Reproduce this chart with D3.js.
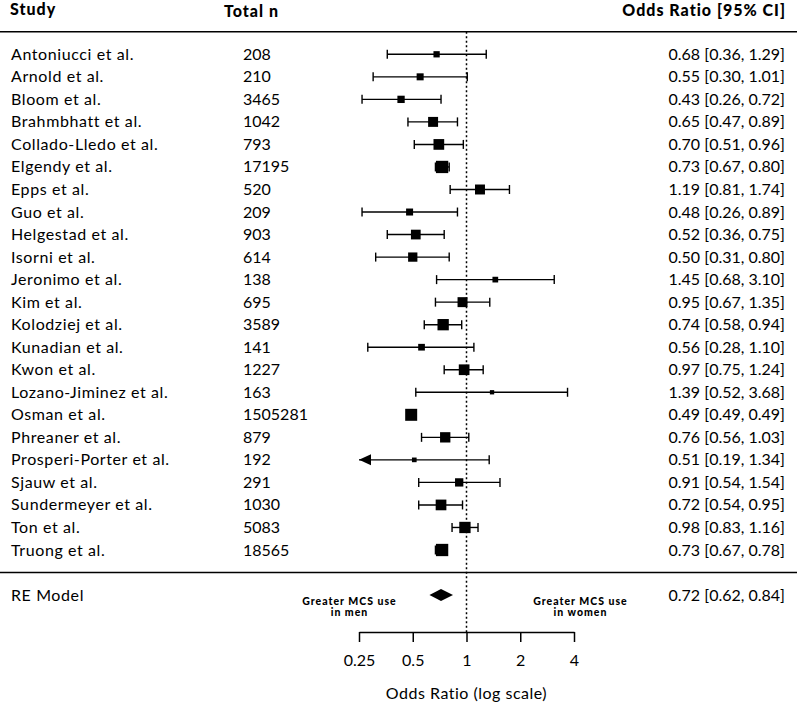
<!DOCTYPE html>
<html><head><meta charset="utf-8">
<script src="https://cdn.jsdelivr.net/npm/d3@7"></script>
<style>
html,body{margin:0;padding:0;background:#fff;}
svg{display:block;}
text{font-family:Lato,"Noto Sans",sans-serif;fill:#000;}
</style></head>
<body>
<svg id="chart" width="797" height="706"></svg>
<script>
const studies = ["Antoniucci et al.","Arnold et al.","Bloom et al.","Brahmbhatt et al.","Collado-Lledo et al.","Elgendy et al.","Epps et al.","Guo et al.","Helgestad et al.","Isorni et al.","Jeronimo et al.","Kim et al.","Kolodziej et al.","Kunadian et al.","Kwon et al.","Lozano-Jiminez et al.","Osman et al.","Phreaner et al.","Prosperi-Porter et al.","Sjauw et al.","Sundermeyer et al.","Ton et al.","Truong et al."];
const totalN = [208,210,3465,1042,793,17195,520,209,903,614,138,695,3589,141,1227,163,1505281,879,192,291,1030,5083,18565];
const oddsRatio = [0.68,0.55,0.43,0.65,0.70,0.73,1.19,0.48,0.52,0.50,1.45,0.95,0.74,0.56,0.97,1.39,0.49,0.76,0.51,0.91,0.72,0.98,0.73];
const ciLower = [0.36,0.30,0.26,0.47,0.51,0.67,0.81,0.26,0.36,0.31,0.68,0.67,0.58,0.28,0.75,0.52,0.49,0.56,0.19,0.54,0.54,0.83,0.67];
const ciUpper = [1.29,1.01,0.72,0.89,0.96,0.80,1.74,0.89,0.75,0.80,3.10,1.35,0.94,1.10,1.24,3.68,0.49,1.03,1.34,1.54,0.95,1.16,0.78];
const weights = [2.6,3.2,3.45,5.6,6.2,7.5,5.6,3.2,5.4,5.05,2.15,5.6,6.7,2.95,6.2,1.0,7.25,5.9,1.3,4.25,6.2,6.7,7.5];
const reModel = {label:"RE Model", or:0.72, lo:0.62, hi:0.84};
const tickValues = [0.25,0.5,1,2,4];
const tickLabels = ["0.25","0.5","1","2","4"];
const headers = ["Study","Total n","Odds Ratio [95% CI]"];
const annotLeft = ["Greater MCS use","in men"];
const annotRight = ["Greater MCS use","in women"];
const axisTitle = "Odds Ratio (log scale)";

const svg = d3.select("#chart");
const W = 797;
const x = d3.scaleLog().domain([0.25,4]).range([359,574]);
const y = d3.scaleLinear().domain([0,22]).range([54.3,550]);
const size = d3.scaleLinear().domain(d3.extent(weights)).range([4.3,12.3]);
const fmt = d3.format(".2f");
const FS = 16;

// header
const hdr = (t,xx,yy,anchor)=>svg.append("text").attr("x",xx).attr("y",yy).attr("text-anchor",anchor)
  .attr("font-size",16).attr("font-weight",900).attr("letter-spacing",1).text(t);
hdr(headers[0],10,15,"start");
hdr(headers[1],224,17,"start");
hdr(headers[2],786,16,"end");

// horizontal rules
svg.append("line").attr("x1",0).attr("x2",W).attr("y1",y(-1)).attr("y2",y(-1)).attr("stroke","#000").attr("stroke-width",1.6);
svg.append("line").attr("x1",0).attr("x2",W).attr("y1",y(23)).attr("y2",y(23)).attr("stroke","#000").attr("stroke-width",1.6);

const axisY = 632;
// reference line at 1
svg.append("line").attr("x1",x(1)).attr("x2",x(1)).attr("y1",y(-1)).attr("y2",axisY)
  .attr("stroke","#000").attr("stroke-width",1.5).attr("stroke-dasharray","2,2.5");

// rows
const rows = svg.append("g").selectAll("g").data(studies).join("g");
rows.append("text").attr("x",11).attr("y",(d,i)=>y(i)+5.5).attr("font-size",FS).attr("letter-spacing",0.6).text(d=>d);
rows.append("text").attr("x",243).attr("y",(d,i)=>y(i)+5.5).attr("font-size",FS).text((d,i)=>totalN[i]);
rows.append("text").attr("x",785).attr("y",(d,i)=>y(i)+5.5).attr("font-size",FS).attr("text-anchor","end")
  .text((d,i)=>`${fmt(oddsRatio[i])} [${fmt(ciLower[i])}, ${fmt(ciUpper[i])}]`);

const lo = i => Math.max(ciLower[i], 0.25);
const hi = i => Math.min(ciUpper[i], 4);
rows.append("line").attr("x1",(d,i)=>x(lo(i))).attr("x2",(d,i)=>x(hi(i)))
  .attr("y1",(d,i)=>y(i)).attr("y2",(d,i)=>y(i)).attr("stroke","#000").attr("stroke-width",1.4);
// caps
rows.filter((d,i)=>ciLower[i]>=0.25).append("line").attr("x1",d=>x(ciLower[studies.indexOf(d)])).attr("x2",d=>x(ciLower[studies.indexOf(d)]))
  .attr("y1",d=>y(studies.indexOf(d))-4.5).attr("y2",d=>y(studies.indexOf(d))+4.5).attr("stroke","#000").attr("stroke-width",1.4);
rows.filter((d,i)=>ciUpper[i]<=4).append("line").attr("x1",d=>x(ciUpper[studies.indexOf(d)])).attr("x2",d=>x(ciUpper[studies.indexOf(d)]))
  .attr("y1",d=>y(studies.indexOf(d))-4.5).attr("y2",d=>y(studies.indexOf(d))+4.5).attr("stroke","#000").attr("stroke-width",1.4);
// arrows for truncated CIs
rows.filter((d,i)=>ciLower[i]<0.25).append("path").attr("d",d=>{
  const i=studies.indexOf(d), x0=x(0.25), yy=y(i);
  return `M${x0},${yy}L${x0+12},${yy-5.5}L${x0+12},${yy+5.5}Z`;}).attr("fill","#000");
// boxes
rows.append("rect")
  .attr("x",(d,i)=>x(oddsRatio[i])-size(weights[i])/2).attr("y",(d,i)=>y(i)-size(weights[i])/2)
  .attr("width",(d,i)=>size(weights[i])).attr("height",(d,i)=>size(weights[i])).attr("fill","#000");

// RE model
const yRE = y(24);
svg.append("text").attr("x",11).attr("y",yRE+5.5).attr("font-size",FS).attr("letter-spacing",0.6).text(reModel.label);
svg.append("text").attr("x",785).attr("y",yRE+5.5).attr("font-size",FS).attr("text-anchor","end")
  .text(`${fmt(reModel.or)} [${fmt(reModel.lo)}, ${fmt(reModel.hi)}]`);
svg.append("path").attr("d",`M${x(reModel.lo)},${yRE}L${x(reModel.or)},${yRE-6}L${x(reModel.hi)},${yRE}L${x(reModel.or)},${yRE+6}Z`).attr("fill","#000");

// annotations
const annot = (lines,cx)=>{
  lines.forEach((t,k)=>svg.append("text").attr("x",cx).attr("y",604.5+k*11).attr("text-anchor","middle")
    .attr("font-size",10.5).attr("font-weight",900).attr("letter-spacing",1).text(t));
};
annot(annotLeft, x(1)-117);
annot(annotRight, x(1)+114);

// axis
const axis = d3.axisBottom(x).tickValues(tickValues).tickFormat((d,i)=>tickLabels[i]).tickSize(10).tickSizeOuter(0).tickPadding(13);
const ga = svg.append("g").attr("transform",`translate(0,${axisY})`).call(axis);
ga.select(".domain").attr("stroke","#000").attr("stroke-width",1.5);
ga.selectAll(".tick line").attr("stroke","#000").attr("stroke-width",1.5);
ga.selectAll(".tick text").attr("font-size",16).attr("font-family","Lato,'Noto Sans',sans-serif").attr("fill","#000");
svg.append("text").attr("x",x(1)).attr("y",699).attr("text-anchor","middle").attr("font-size",16).attr("letter-spacing",0.5).text(axisTitle);
</script>
</body></html>
